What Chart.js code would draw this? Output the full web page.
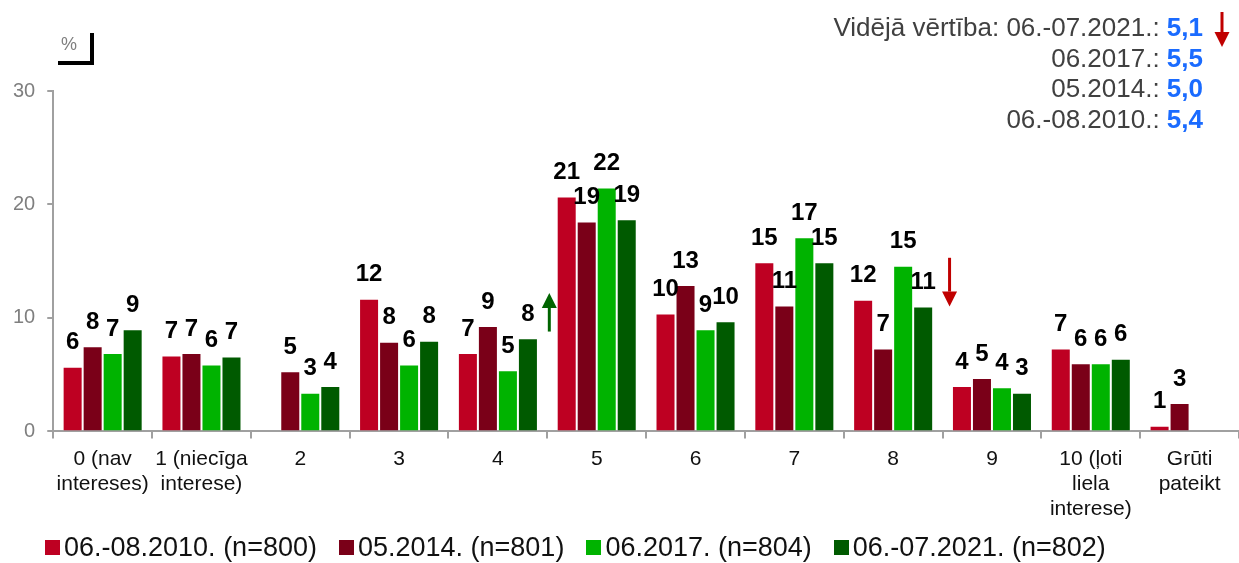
<!DOCTYPE html>
<html>
<head>
<meta charset="utf-8">
<script src="https://cdn.jsdelivr.net/npm/chart.js@4.4.0/dist/chart.umd.min.js"></script>
<style>
  html, body { margin: 0; padding: 0; background: #fff; }
  #wrap { position: relative; width: 1239px; height: 563px; font-family: "Liberation Sans", Arial, sans-serif; }
  #chart { position: absolute; left: 0; top: 0; }
  #pct { position: absolute; left: 61px; top: 34px; font-size: 18px; color: #7f7f7f; }
  #bracketV { position: absolute; left: 90px; top: 33px; width: 4px; height: 32px; background: #000; }
  #bracketH { position: absolute; left: 58px; top: 61px; width: 36px; height: 4px; background: #000; }
  #means { position: absolute; right: 36px; top: 12px; text-align: right; font-size: 26px; color: #404040; line-height: 30.5px; }
  #means b { color: #1a6bff; }
  #legend { position: absolute; left: 45px; top: 532px; display: flex; font-size: 27px; color: #111; }
  #legend .item { display: flex; align-items: center; margin-right: 22px; white-space: nowrap; }
  #legend .box { width: 15px; height: 15px; margin-right: 4px; }
</style>
</head>
<body>
<div id="wrap">
  <canvas id="chart" width="1239" height="563"></canvas>
  <div id="pct">%</div>
  <div id="bracketV"></div>
  <div id="bracketH"></div>
  <div id="means"></div>
  <div id="legend"></div>
</div>
<script>
// Data
const categories = [
    ['0 (nav', 'intereses)'], ['1 (niecīga', 'interese)'], '2', '3', '4', '5', '6', '7', '8', '9',
    ['10 (ļoti', 'liela', 'interese)'], ['Grūti', 'pateikt']
];
const seriesNames = ['06.-08.2010. (n=800)', '05.2014. (n=801)', '06.2017. (n=804)', '06.-07.2021. (n=802)'];
const seriesColors = ['#be0022', '#7a0018', '#00b300', '#005a00'];
const values2010 = [5.7, 6.7, null, 11.7, 6.9, 20.7, 10.4, 14.9, 11.6, 4.0, 7.3, 0.5];
const values2014 = [7.5, 6.9, 5.3, 7.9, 9.3, 18.5, 12.9, 11.1, 7.3, 4.7, 6.0, 2.5];
const values2017 = [6.9, 5.9, 3.4, 5.9, 5.4, 21.5, 9.0, 17.1, 14.6, 3.9, 6.0, null];
const values2021 = [9.0, 6.6, 4.0, 8.0, 8.2, 18.7, 9.7, 14.9, 11.0, 3.4, 6.4, null];
const yTicks = [0, 10, 20, 30];
const meanLabels = ['Vidējā vērtība: 06.-07.2021.:', '06.2017.:', '05.2014.:', '06.-08.2010.:'];
const meanValues = ['5,1', '5,5', '5,0', '5,4'];
// trend arrows: placed after category index, from value -> to value
const trendArrows = [
    { after: 4, from: 8.8, to: 12.2, color: '#006400', dx: 2 },
    { after: 8, from: 15.3, to: 11.0, color: '#c00000', dx: 7 }
];

const FONT = '"Liberation Sans", Arial, sans-serif';

// Means block (top right)
const meansEl = document.getElementById('means');
meansEl.innerHTML = meanLabels.map((l, i) => `<div>${l} <b>${meanValues[i]}</b></div>`).join('');

// Legend
const legendEl = document.getElementById('legend');
legendEl.innerHTML = seriesNames.map((n, i) =>
    `<div class="item"><span class="box" style="background:${seriesColors[i]}"></span>${n}</div>`).join('');

const drawArrow = (ctx, x, y1, y2, color) => {
    const dir = y2 < y1 ? -1 : 1;
    const head = 15;
    ctx.save();
    ctx.strokeStyle = color;
    ctx.fillStyle = color;
    ctx.lineWidth = 3;
    ctx.beginPath();
    ctx.moveTo(x, y1);
    ctx.lineTo(x, y2 - dir * head);
    ctx.stroke();
    ctx.beginPath();
    ctx.moveTo(x, y2);
    ctx.lineTo(x - 7.5, y2 - dir * head);
    ctx.lineTo(x + 7.5, y2 - dir * head);
    ctx.closePath();
    ctx.fill();
    ctx.restore();
};

const valueLabels = {
    id: 'valueLabels',
    afterDatasetsDraw(chart) {
        const ctx = chart.ctx;
        ctx.save();
        ctx.font = 'bold 24px ' + FONT;
        ctx.fillStyle = '#000';
        ctx.textAlign = 'center';
        ctx.textBaseline = 'middle';
        chart.data.datasets.forEach((ds, i) => {
            chart.getDatasetMeta(i).data.forEach((bar, j) => {
                const v = ds.data[j];
                if (v === null || v === undefined) return;
                ctx.fillText(String(Math.round(v)), bar.x, bar.y - 24);
            });
        });
        ctx.restore();
    },
    afterDraw(chart) {
        const { ctx, scales: { x, y } } = chart;
        trendArrows.forEach(a => {
            const px = (x.getPixelForValue(a.after) + x.getPixelForValue(a.after + 1)) / 2 + a.dx;
            drawArrow(ctx, px, y.getPixelForValue(a.from), y.getPixelForValue(a.to), a.color);
        });
        // arrow next to the 2021 mean
        drawArrow(ctx, 1222, 12, 47, '#c00000');
    }
};

const ctx = document.getElementById('chart').getContext('2d');
new Chart(ctx, {
    type: 'bar',
    data: {
        labels: categories,
        datasets: [values2010, values2014, values2017, values2021].map((d, i) => ({
            label: seriesNames[i],
            data: d,
            backgroundColor: seriesColors[i],
            borderColor: 'rgba(255,255,255,0.35)',
            borderWidth: 1,
            categoryPercentage: 0.81,
            barPercentage: 1.0
        }))
    },
    options: {
        responsive: false,
        animation: false,
        layout: { padding: { top: 91, left: 1, right: 0, bottom: 33 } },
        plugins: { legend: { display: false }, tooltip: { enabled: false } },
        scales: {
            x: {
                grid: { offset: true, drawOnChartArea: false, drawTicks: true, tickLength: 7, color: '#a0a0a0', lineWidth: 2 },
                border: { color: '#a0a0a0', width: 2 },
                ticks: { color: '#111', font: { size: 21, family: FONT }, padding: 8, maxRotation: 0, autoSkip: false }
            },
            y: {
                min: 0, max: 30,
                afterBuildTicks: axis => { axis.ticks = yTicks.map(v => ({ value: v })); },
                grid: { drawOnChartArea: false, drawTicks: true, tickLength: 6, color: '#a0a0a0', lineWidth: 2 },
                border: { color: '#a0a0a0', width: 2 },
                ticks: { color: '#7f7f7f', font: { size: 20, family: FONT }, padding: 12 }
            }
        }
    },
    plugins: [valueLabels]
});
</script>
</body>
</html>
